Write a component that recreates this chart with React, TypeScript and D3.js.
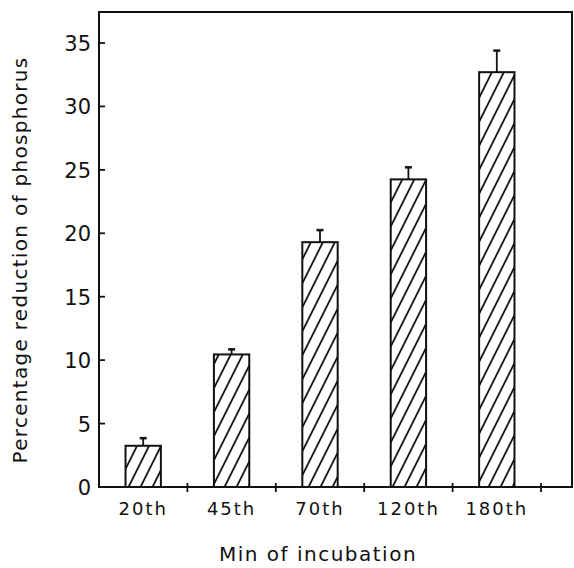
import React, { useEffect, useRef } from "react";
import * as d3 from "d3";

const categories = ["20th", "45th", "70th", "120th", "180th"];
const values = [3.25, 10.45, 19.3, 24.25, 32.7];
const errorTops = [3.85, 10.85, 20.25, 25.2, 34.4];
const yTicks = [0, 5, 10, 15, 20, 25, 30, 35];

export default function App() {
  const ref = useRef<SVGSVGElement>(null);

  useEffect(() => {
    const svg = d3.select(ref.current);
    svg.selectAll("*").remove();

    const left = 99, top = 12, right = 572, bottom = 487;
    const font = "'DejaVu Sans', sans-serif";

    const x = d3.scaleBand().domain(categories).range([left, 541]).paddingInner(0.6).paddingOuter(0.3);
    const y = d3.scaleLinear().domain([0, 35]).range([bottom, 43]);

    // hatch pattern
    const pat = svg.append("defs").append("pattern")
      .attr("id", "hatch")
      .attr("patternUnits", "userSpaceOnUse")
      .attr("width", 12)
      .attr("height", 24);
    [[0, 24, 12, 0], [-6, 12, 6, -12], [6, 36, 18, 12]].forEach(([x1, y1, x2, y2]) => {
      pat.append("line")
        .attr("x1", x1).attr("y1", y1).attr("x2", x2).attr("y2", y2)
        .attr("stroke", "#111").attr("stroke-width", 1.8);
    });

    // frame
    svg.append("rect")
      .attr("x", left).attr("y", top)
      .attr("width", right - left).attr("height", bottom - top)
      .attr("fill", "none").attr("stroke", "#111").attr("stroke-width", 2);

    // y ticks (inward)
    svg.append("g").selectAll("line").data(yTicks.slice(1)).join("line")
      .attr("x1", left).attr("x2", left + 6)
      .attr("y1", (d) => y(d)).attr("y2", (d) => y(d))
      .attr("stroke", "#111").attr("stroke-width", 1.8);

    svg.append("g").selectAll("text").data(yTicks).join("text")
      .attr("x", 91).attr("y", (d) => y(d) + 8)
      .attr("text-anchor", "end")
      .style("font-family", font).style("font-size", "21px").attr("fill", "#111")
      .text((d) => d);

    // x ticks between bars
    const bounds = categories.map((c) => (x(c) as number) + x.bandwidth() / 2 + x.step() / 2);
    svg.append("g").selectAll("line").data(bounds).join("line")
      .attr("x1", (d) => d).attr("x2", (d) => d)
      .attr("y1", bottom - 4).attr("y2", bottom + 5)
      .attr("stroke", "#111").attr("stroke-width", 1.8);

    // bars
    svg.append("g").selectAll("rect").data(categories).join("rect")
      .attr("x", (d) => x(d) as number)
      .attr("y", (d, i) => y(values[i]))
      .attr("width", x.bandwidth())
      .attr("height", (d, i) => y(0) - y(values[i]))
      .attr("fill", "url(#hatch)")
      .attr("stroke", "#111").attr("stroke-width", 2);

    // error bars
    const eb = svg.append("g");
    categories.forEach((c, i) => {
      const cx = (x(c) as number) + x.bandwidth() / 2;
      eb.append("line")
        .attr("x1", cx).attr("x2", cx)
        .attr("y1", y(values[i])).attr("y2", y(errorTops[i]))
        .attr("stroke", "#111").attr("stroke-width", 1.8);
      eb.append("line")
        .attr("x1", cx - 3.5).attr("x2", cx + 3.5)
        .attr("y1", y(errorTops[i])).attr("y2", y(errorTops[i]))
        .attr("stroke", "#111").attr("stroke-width", 2.5);
    });

    // category labels
    svg.append("g").selectAll("text").data(categories).join("text")
      .attr("x", (d) => (x(d) as number) + x.bandwidth() / 2)
      .attr("y", 515)
      .attr("text-anchor", "middle")
      .style("font-family", font).style("font-size", "18px")
      .style("letter-spacing", "2px").attr("fill", "#111")
      .text((d) => d);

    // axis titles
    svg.append("text")
      .attr("x", 318).attr("y", 561)
      .attr("text-anchor", "middle")
      .style("font-family", font).style("font-size", "20px")
      .style("letter-spacing", "1.5px").attr("fill", "#111")
      .text("Min of incubation");

    svg.append("text")
      .attr("transform", "translate(27,260) rotate(-90)")
      .attr("text-anchor", "middle")
      .style("font-family", font).style("font-size", "20px")
      .style("letter-spacing", "1.3px").attr("fill", "#111")
      .text("Percentage reduction of phosphorus");
  }, []);

  return (
    <svg ref={ref} width={574} height={568} style={{ position: "absolute", left: 0, top: 0, background: "#fff" }} />
  );
}
